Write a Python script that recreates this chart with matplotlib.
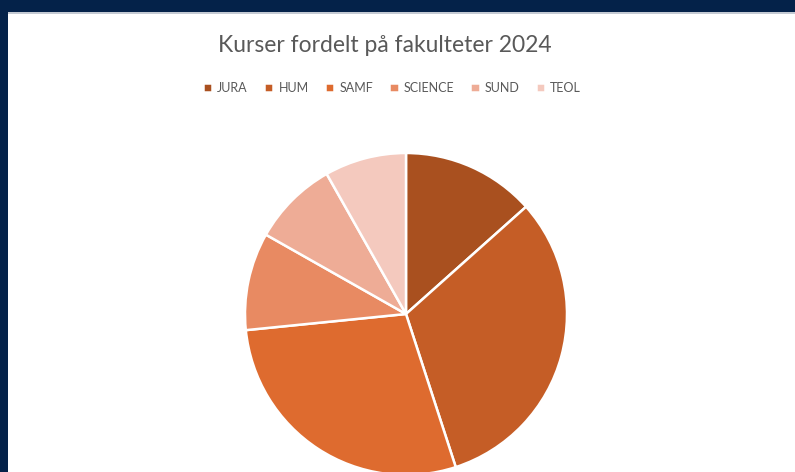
import matplotlib.pyplot as plt
from matplotlib.patches import Rectangle

faculties = ["JURA", "HUM", "SAMF", "SCIENCE", "SUND", "TEOL"]
shares = [13.4, 31.6, 28.4, 9.8, 8.6, 8.2]
colors = ["#A9501F", "#C55D26", "#DE6B2F", "#E88A62", "#EEAC96", "#F4C9BE"]

plt.rcParams["font.family"] = ["Lato", "DejaVu Sans"]

W, H = 795, 472
fig = plt.figure(figsize=(W / 100, H / 100), dpi=100)
fig.patch.set_facecolor("#042249")

# white slide area inside the navy frame
fig.patches.append(Rectangle((8 / W, 0), 1, (H - 12) / H, transform=fig.transFigure,
                             facecolor="white", edgecolor="none", zorder=0))
fig.patches.append(Rectangle((8 / W, (H - 14) / H), 1, 2 / H, transform=fig.transFigure,
                             facecolor="#c4cad3", edgecolor="none", zorder=1))

cx, cy, r = 406, 314, 161
ax = fig.add_axes([(cx - r) / W, (H - cy - r) / H, 2 * r / W, 2 * r / H])
ax.set_zorder(3)
ax.patch.set_visible(False)
wedges, _ = ax.pie(shares, colors=colors, startangle=90, counterclock=False,
                   wedgeprops=dict(edgecolor="white", linewidth=1.8))
ax.set_xlim(-1, 1)
ax.set_ylim(-1, 1)
ax.set_aspect("equal")
ax.axis("off")

fig.text(385 / W, 1 - 45 / H, "Kurser fordelt på fakulteter 2024",
         ha="center", va="center", fontsize=16.5, color="#595959", zorder=3)

leg = fig.legend(wedges, faculties, loc="center", bbox_to_anchor=(392 / W, 1 - 88 / H),
                 ncol=6, frameon=False, fontsize=9, labelcolor="#595959",
                 handlelength=0.75, handleheight=0.75, handletextpad=0.4, columnspacing=1.3)
leg.set_zorder(3)

fig.savefig("out.png", dpi=100, facecolor=fig.get_facecolor())
